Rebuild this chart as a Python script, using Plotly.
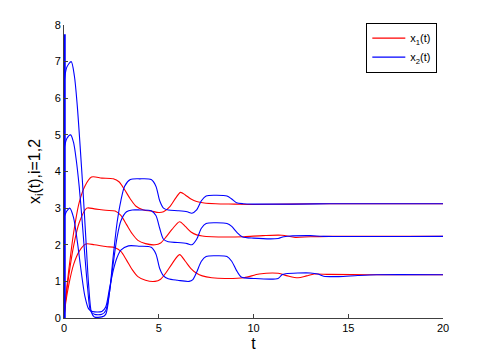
import plotly.graph_objects as go

# x1 components (red)
t_r1 = [0, 0.1, 0.25, 0.5, 0.8, 1.1, 1.45, 2.0, 2.6, 2.9, 3.2, 3.5, 3.8, 4.2, 4.6, 5.0, 5.25, 5.6, 5.9, 6.15, 6.4, 6.7, 7.0, 7.4, 8.0, 9.0, 10, 12, 14, 20]
x_r1 = [0, 0.6, 1.3, 2.3, 3.15, 3.6, 3.85, 3.82, 3.8, 3.72, 3.5, 3.25, 3.05, 2.95, 2.92, 2.88, 2.9, 3.05, 3.28, 3.43, 3.36, 3.25, 3.18, 3.14, 3.12, 3.11, 3.1, 3.11, 3.12, 3.12]

t_r2 = [0, 0.1, 0.25, 0.5, 0.8, 1.2, 1.6, 2.2, 2.7, 3.0, 3.3, 3.6, 3.9, 4.3, 4.8, 5.1, 5.4, 5.7, 6.1, 6.4, 6.7, 7.0, 7.3, 7.8, 8.5, 9.5, 10.5, 11.5, 12.2, 13, 14, 20]
x_r2 = [0, 0.55, 1.15, 1.95, 2.6, 3.0, 2.98, 2.94, 2.92, 2.8, 2.55, 2.3, 2.12, 2.03, 2.0, 2.05, 2.22, 2.42, 2.63, 2.5, 2.35, 2.27, 2.24, 2.22, 2.21, 2.22, 2.25, 2.26, 2.2, 2.22, 2.23, 2.23]

t_r3 = [0, 0.1, 0.25, 0.5, 0.8, 1.15, 1.6, 2.2, 2.7, 3.0, 3.3, 3.6, 3.9, 4.3, 4.8, 5.1, 5.4, 5.7, 6.1, 6.4, 6.7, 7.0, 7.3, 7.8, 8.5, 9.5, 10.3, 11.3, 11.8, 12.35, 12.8, 13.2, 14, 16, 20]
x_r3 = [0, 0.45, 0.9, 1.45, 1.82, 2.02, 2.0, 1.95, 1.92, 1.82, 1.58, 1.32, 1.13, 1.03, 1.0, 1.06, 1.25, 1.48, 1.73, 1.55, 1.35, 1.22, 1.15, 1.1, 1.08, 1.1, 1.2, 1.22, 1.15, 1.1, 1.15, 1.2, 1.19, 1.18, 1.18]

# x2 components (blue)
t_b1 = [0, 0.15, 0.38, 0.55, 0.7, 0.85, 1.0, 1.15, 1.3, 1.45, 1.6, 2.0, 2.2, 2.4, 2.6, 2.8, 3.0, 3.2, 3.5, 4.0, 4.6, 4.85, 5.05, 5.25, 5.5, 6.0, 6.5, 6.75, 7.0, 7.25, 7.5, 8.0, 8.6, 8.85, 9.1, 9.45, 10, 12, 14, 20]
x_b1 = [6.4, 6.85, 7.0, 6.6, 5.8, 4.7, 3.5, 2.2, 0.9, 0.15, 0.03, 0.03, 0.1, 0.7, 1.7, 2.6, 3.2, 3.6, 3.78, 3.8, 3.78, 3.6, 3.2, 3.0, 2.95, 2.93, 2.9, 2.86, 2.95, 3.2, 3.33, 3.35, 3.33, 3.25, 3.15, 3.12, 3.11, 3.11, 3.12, 3.12]

t_b2 = [0, 0.15, 0.35, 0.5, 0.65, 0.8, 0.95, 1.1, 1.25, 1.4, 1.6, 2.0, 2.2, 2.4, 2.6, 2.8, 3.0, 3.3, 3.6, 4.0, 4.6, 4.85, 5.05, 5.25, 5.5, 6.0, 6.5, 6.75, 7.0, 7.25, 7.5, 8.0, 8.6, 8.85, 9.1, 9.4, 10, 11.3, 11.6, 13, 13.7, 20]
x_b2 = [4.6, 4.9, 5.0, 4.8, 4.3, 3.6, 2.7, 1.7, 0.8, 0.2, 0.1, 0.1, 0.2, 0.7, 1.5, 2.2, 2.65, 2.9, 2.95, 2.95, 2.93, 2.8, 2.45, 2.15, 2.08, 2.06, 2.03, 2.0, 2.15, 2.45, 2.58, 2.6, 2.58, 2.5, 2.35, 2.22, 2.18, 2.17, 2.22, 2.25, 2.23, 2.23]

t_b3 = [0, 0.15, 0.3, 0.5, 0.7, 0.9, 1.1, 1.3, 1.5, 2.0, 2.2, 2.4, 2.6, 2.8, 3.0, 3.4, 4.0, 4.6, 4.85, 5.05, 5.25, 5.5, 6.0, 6.6, 6.8, 7.0, 7.25, 7.5, 8.0, 8.6, 8.85, 9.1, 9.35, 10, 11.3, 11.5, 11.7, 13.0, 13.4, 13.7, 14.5, 15.5, 16.5, 20]
x_b3 = [2.75, 2.92, 3.0, 2.75, 2.1, 1.3, 0.6, 0.25, 0.18, 0.18, 0.3, 0.8, 1.3, 1.65, 1.85, 1.97, 1.96, 1.93, 1.75, 1.35, 1.15, 1.07, 1.03, 1.0, 1.05, 1.25, 1.55, 1.68, 1.7, 1.68, 1.55, 1.3, 1.12, 1.08, 1.08, 1.18, 1.21, 1.23, 1.2, 1.14, 1.13, 1.16, 1.18, 1.18]

# initial jump of x2 at t=0
t_jump = [0, 0]
x_jump = [0, 7.75]

red_curves = [(t_r1, x_r1), (t_r2, x_r2), (t_r3, x_r3)]
blue_curves = [(t_b1, x_b1), (t_b2, x_b2), (t_b3, x_b3)]

fig = go.Figure()

for i, (t, x) in enumerate(red_curves):
    fig.add_trace(go.Scatter(x=t, y=x, mode='lines', name='x<sub>1</sub>(t)',
                             line=dict(color='#ff0000', width=1.1, shape='spline', smoothing=0.8),
                             legendgroup='x1', showlegend=(i == 0)))

for i, (t, x) in enumerate(blue_curves):
    fig.add_trace(go.Scatter(x=t, y=x, mode='lines', name='x<sub>2</sub>(t)',
                             line=dict(color='#0000ff', width=1.1, shape='spline', smoothing=0.8),
                             legendgroup='x2', showlegend=(i == 0)))

fig.add_trace(go.Scatter(x=t_jump, y=x_jump, mode='lines', showlegend=False,
                         line=dict(color='#0000ff', width=3.5)))

ax = dict(showline=True, linecolor='#404040', linewidth=1, ticks='inside', ticklen=4,
          tickcolor='#404040', showgrid=False, zeroline=False,
          tickfont=dict(family='Arial', size=11, color='black'))

# page body adds 8px offset, margins compensate for it
fig.update_layout(
    width=496, height=355,
    margin=dict(l=56, r=61, t=11, b=45),
    paper_bgcolor='white', plot_bgcolor='white',
    xaxis=dict(ax, range=[0, 20], tickvals=[0, 5, 10, 15, 20],
               title=dict(text='t', font=dict(family='Arial', size=16, color='black'), standoff=4)),
    yaxis=dict(ax, range=[0, 8], tickvals=list(range(9)),
               title=dict(text='x<sub>i</sub>(t),i=1,2', font=dict(family='Arial', size=16, color='black'), standoff=10)),
    legend=dict(x=0.985, y=1.008, xanchor='right', yanchor='top', bgcolor='white',
                bordercolor='black', borderwidth=1, font=dict(family='Arial', size=11, color='black'),
                tracegroupgap=0, itemwidth=33),
    showlegend=True,
)

fig.write_html("out.html")
